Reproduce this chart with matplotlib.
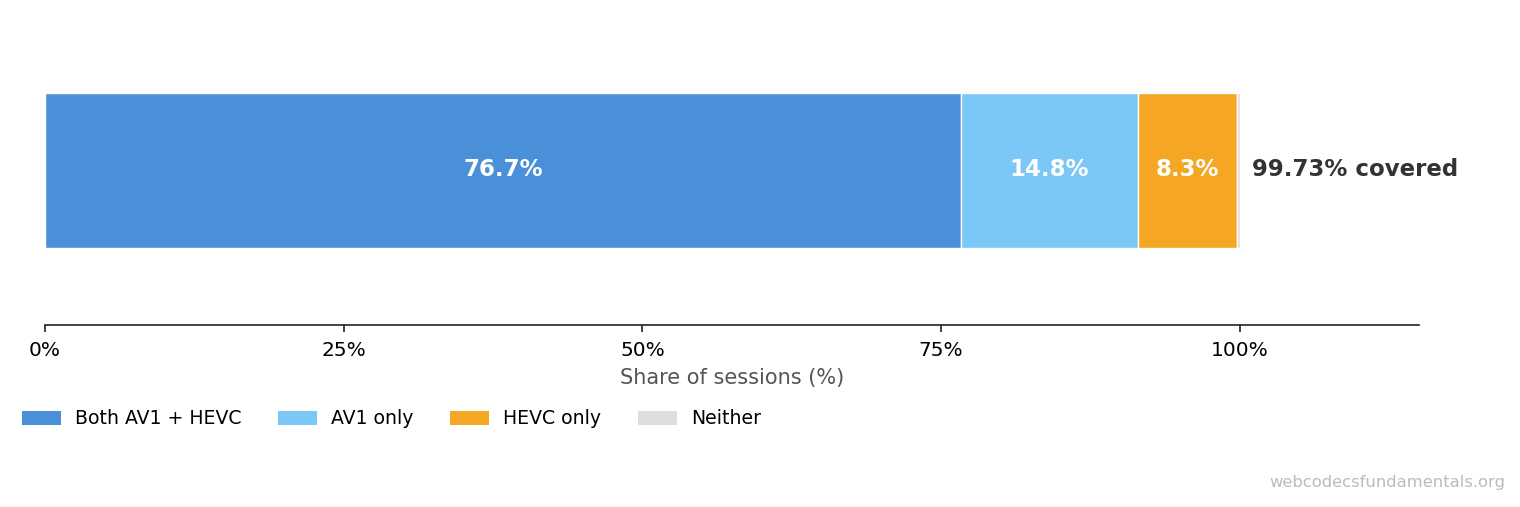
import matplotlib

matplotlib.use("Agg")
import matplotlib.pyplot as plt
from matplotlib.patches import Patch

# segment data (share of sessions, %)
categories = ["Both AV1 + HEVC", "AV1 only", "HEVC only", "Neither"]
shares = [76.7, 14.75, 8.28, 0.27]
labels = ["76.7%", "14.8%", "8.3%", ""]
colors = ["#4A90D9", "#7BC8F6", "#F5A623", "#DDDDDD"]
covered_label = "99.73% covered"
xticks = [0, 25, 50, 75, 100]
xtick_labels = ["0%", "25%", "50%", "75%", "100%"]

fig = plt.figure(figsize=(15.2, 5.07), dpi=100)
ax = fig.add_axes([45 / 1520, 1 - 325 / 507, 1374 / 1520, 310 / 507])

left = 0.0
for share, label, color in zip(shares, labels, colors):
    ax.barh(0, share, left=left, height=0.5, color=color, edgecolor="white", linewidth=1)
    if label:
        ax.text(left + share / 2, 0, label, ha="center", va="center",
                color="white", fontsize=16.5, fontweight="bold")
    left += share

ax.text(101, 0, covered_label, ha="left", va="center",
        color="#333333", fontsize=16.5, fontweight="bold")

ax.set_xlim(0, 115)
ax.set_ylim(-0.5, 0.5)
ax.set_xticks(xticks)
ax.set_xticklabels(xtick_labels, fontsize=14.5)
ax.set_yticks([])
ax.tick_params(axis="x", length=5, width=1.2, color="#222222", pad=6.5)
for side in ("top", "right", "left"):
    ax.spines[side].set_visible(False)
ax.spines["bottom"].set_linewidth(1.2)
ax.spines["bottom"].set_color("#222222")
ax.set_xlabel("Share of sessions (%)", fontsize=15, color="#555555", labelpad=6)

handles = [Patch(facecolor=c, edgecolor="none") for c in colors]
fig.legend(handles, categories, loc="center left", bbox_to_anchor=(0.0033, 1 - 419 / 507),
           ncol=4, frameon=False, fontsize=13.6, handlelength=2.06, handleheight=0.8,
           columnspacing=1.95, handletextpad=0.74)

fig.text(1505 / 1520, 1 - 483 / 507, "webcodecsfundamentals.org", ha="right", va="center",
         color="#BBBBBB", fontsize=11.8)

fig.savefig("out.png", dpi=100)
plt.close(fig)
